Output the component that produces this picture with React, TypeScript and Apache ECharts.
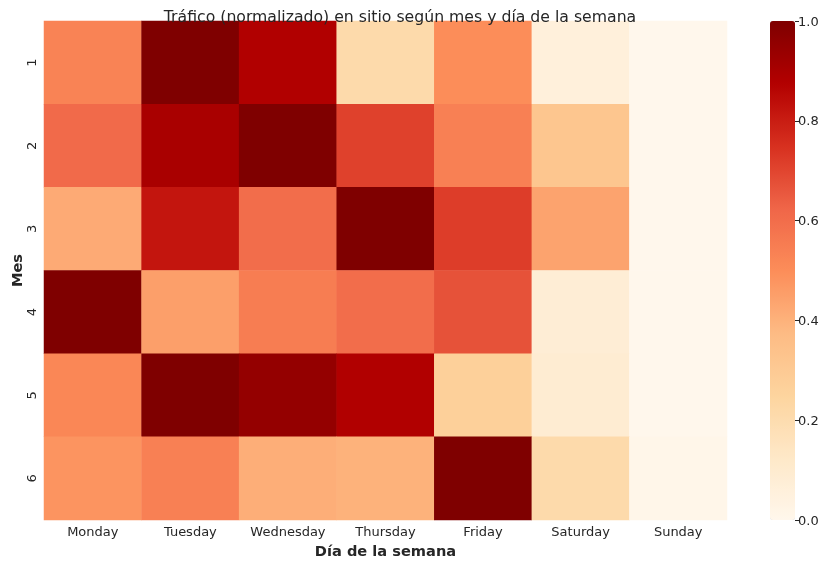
import React, { useEffect, useRef } from "react";
import * as echarts from "echarts";

const days = ["Monday", "Tuesday", "Wednesday", "Thursday", "Friday", "Saturday", "Sunday"];
const months = ["1", "2", "3", "4", "5", "6"];
const row1 = [0.53, 1.0, 0.88, 0.21, 0.5, 0.06, 0.0];
const row2 = [0.61, 0.9, 1.0, 0.71, 0.54, 0.32, 0.0];
const row3 = [0.42, 0.82, 0.6, 1.0, 0.72, 0.44, 0.0];
const row4 = [1.0, 0.45, 0.55, 0.6, 0.67, 0.08, 0.0];
const row5 = [0.52, 1.0, 0.95, 0.88, 0.27, 0.09, 0.0];
const row6 = [0.48, 0.54, 0.41, 0.4, 1.0, 0.21, 0.01];
const rows = [row1, row2, row3, row4, row5, row6];

const orRd = ["#fff7ec", "#fee8c8", "#fdd49e", "#fdbb84", "#fc8d59", "#ef6548", "#d7301f", "#b30000", "#7f0000"];

const FONT = "DejaVu Sans";
const TXT = "#262626";

export default function App() {
  const ref = useRef<HTMLDivElement>(null);
  useEffect(() => {
    const chart = echarts.init(ref.current!, null, { renderer: "svg" });
    const data: number[][] = [];
    rows.forEach((r, yi) => r.forEach((v, xi) => data.push([xi, yi, v])));
    chart.setOption({
      animation: false,
      textStyle: { fontFamily: FONT },
      title: {
        text: "Tráfico (normalizado) en sitio según mes y día de la semana",
        left: 395,
        textAlign: "center",
        top: 3,
        textStyle: { fontFamily: FONT, fontSize: 15.7, fontWeight: "normal", color: TXT },
      },
      grid: [
        { left: 44, top: 21, width: 683, height: 499, outerBoundsMode: "none", containLabel: false },
        { left: 770, top: 21, width: 25, height: 499, outerBoundsMode: "none", containLabel: false },
      ],
      xAxis: [
        {
          type: "category",
          data: days,
          gridIndex: 0,
          axisLine: { show: false },
          axisTick: { show: false },
          splitLine: { show: false },
          axisLabel: { color: TXT, fontSize: 13, fontFamily: FONT, margin: 5, interval: 0 },
          name: "Día de la semana",
          nameLocation: "middle",
          nameGap: 20,
          nameTextStyle: { color: TXT, fontSize: 14.6, fontWeight: "bold", fontFamily: FONT },
        },
        { type: "category", data: [""], gridIndex: 1, show: false },
      ],
      yAxis: [
        {
          type: "category",
          data: months,
          inverse: true,
          gridIndex: 0,
          axisLine: { show: false },
          axisTick: { show: false },
          splitLine: { show: false },
          axisLabel: { color: TXT, fontSize: 13, fontFamily: FONT, rotate: 90, margin: 6, interval: 0 },
          name: "Mes",
          nameLocation: "middle",
          nameGap: 20,
          nameRotate: 90,
          nameMoveOverlap: false,
          nameTextStyle: { color: TXT, fontSize: 14.6, fontWeight: "bold", fontFamily: FONT },
        },
        {
          type: "value",
          gridIndex: 1,
          position: "right",
          min: 0,
          max: 1,
          interval: 0.2,
          z: 10,
          axisLine: { show: false, onZero: false },
          splitLine: { show: false },
          axisTick: { show: true, inside: false, length: 4, lineStyle: { color: TXT, width: 1 } },
          axisLabel: {
            color: TXT,
            fontSize: 13,
            fontFamily: FONT,
            margin: 3,
            formatter: (v: number) => v.toFixed(1),
          },
        },
      ],
      visualMap: {
        type: "continuous",
        min: 0,
        max: 1,
        seriesIndex: 0,
        orient: "vertical",
        left: 770,
        top: 21,
        itemWidth: 25,
        itemHeight: 499,
        padding: 0,
        calculable: false,
        hoverLink: false,
        inRange: { color: orRd },
      },
      series: [
        {
          type: "heatmap",
          xAxisIndex: 0,
          yAxisIndex: 0,
          data,
          itemStyle: { borderWidth: 0 },
          emphasis: { disabled: true },
        },
      ],
    });
    return () => chart.dispose();
  }, []);
  return <div ref={ref} style={{ position: "fixed", left: 0, top: 0, width: 826, height: 562 }} />;
}
